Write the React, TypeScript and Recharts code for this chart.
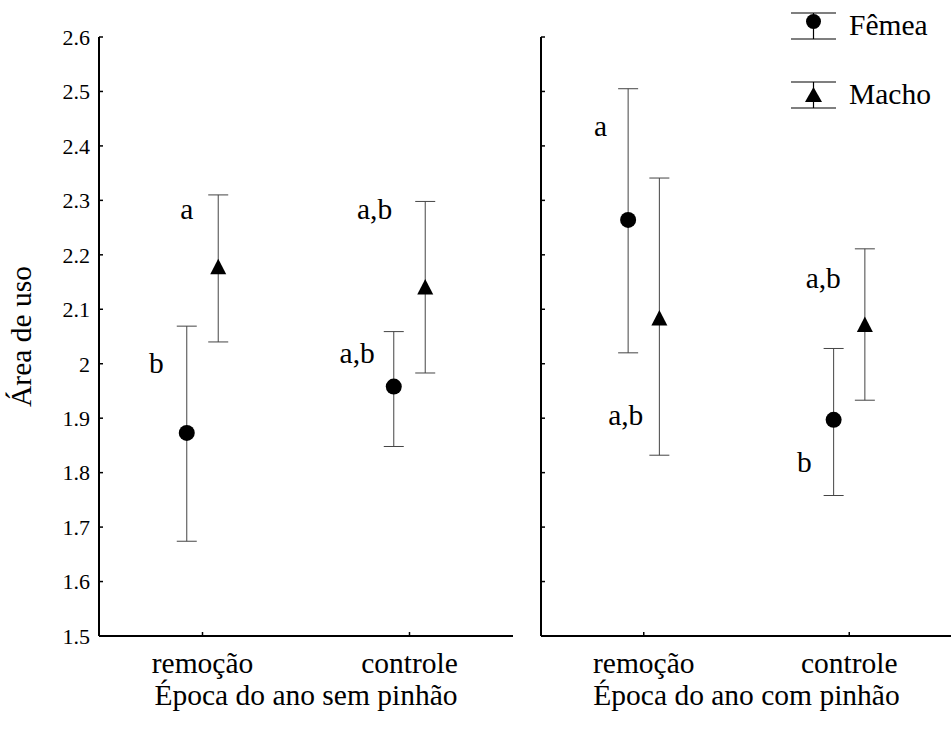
import React from 'react';
import { ScatterChart, Scatter, XAxis, YAxis, ErrorBar, Legend } from 'recharts';

// Época do ano: remoção / controle
const categories = ['remoção', 'controle'];
const yTicks = [1.5, 1.6, 1.7, 1.8, 1.9, 2.0, 2.1, 2.2, 2.3, 2.4, 2.5, 2.6];

// sem pinhão
const semFemeaMean = [1.873, 1.958];
const semFemeaUpper = [2.069, 2.059];
const semFemeaLower = [1.674, 1.848];
const semFemeaLetters = ['b', 'a,b'];
const semMachoMean = [2.178, 2.141];
const semMachoUpper = [2.31, 2.298];
const semMachoLower = [2.04, 1.983];
const semMachoLetters = ['a', 'a,b'];

// com pinhão
const comFemeaMean = [2.264, 1.897];
const comFemeaUpper = [2.505, 2.028];
const comFemeaLower = [2.02, 1.758];
const comFemeaLetters = ['a', 'b'];
const comMachoMean = [2.084, 2.072];
const comMachoUpper = [2.341, 2.211];
const comMachoLower = [1.832, 1.933];
const comMachoLetters = ['a,b', 'a,b'];

const FONT = '"Liberation Serif", "Times New Roman", serif';
const INK = '#000';
const BAR = '#444';
const SHIFT = 0.076; // horizontal offset of fêmea/macho around the category
const TXT = 29.5;

// letter placement, px from the marker: [right edge dx, baseline dy]
const semFemeaLetterPos = [[-23, -60], [-19, -24]];
const semMachoLetterPos = [[-25, -48], [-33, -68]];
const comFemeaLetterPos = [[-21, -84], [-22, 52]];
const comMachoLetterPos = [[-16, 107], [-24, -37]];

function rows(mean: number[], upper: number[], lower: number[], letters: string[], shift: number, pos: number[][]) {
  return mean.map((m, i) => ({
    x: i + shift,
    y: m,
    err: [m - lower[i], upper[i] - m],
    letter: letters[i],
    dx: pos[i][0],
    dy: pos[i][1],
  }));
}

function Letter({ cx, cy, payload }: any) {
  return (
    <text x={cx + payload.dx} y={cy + payload.dy} textAnchor="end" fontFamily={FONT} fontSize={TXT} fill={INK}>
      {payload.letter}
    </text>
  );
}

function Circle(props: any) {
  const { cx, cy } = props;
  return (
    <g>
      <circle cx={cx} cy={cy} r={8} fill={INK} />
      <Letter {...props} />
    </g>
  );
}

function Triangle(props: any) {
  const { cx, cy } = props;
  return (
    <g>
      <polygon points={`${cx},${cy - 8} ${cx - 8},${cy + 7.5} ${cx + 8},${cy + 7.5}`} fill={INK} />
      <Letter {...props} />
    </g>
  );
}

function LegendBox() {
  const item = (y: number, label: string, tri: boolean) => (
    <g key={label}>
      <line x1={0} x2={45} y1={y} y2={y} stroke={INK} strokeWidth={1.2} />
      <line x1={0} x2={45} y1={y + 26} y2={y + 26} stroke={INK} strokeWidth={1.2} />
      <line x1={22.5} x2={22.5} y1={y} y2={y + 26} stroke={INK} strokeWidth={1.2} />
      {tri ? (
        <polygon points={`22.5,${y + 5} 14,${y + 20} 31,${y + 20}`} fill={INK} />
      ) : (
        <circle cx={22.5} cy={y + 8.5} r={7.5} fill={INK} />
      )}
      <text x={58} y={y + 22} fontFamily={FONT} fontSize={TXT} fill={INK}>
        {label}
      </text>
    </g>
  );
  return (
    <svg width={170} height={120}>
      {item(13, 'Fêmea', false)}
      {item(82, 'Macho', true)}
    </svg>
  );
}

function Panel(props: {
  femea: any[];
  macho: any[];
  title: string;
  width: number;
  left: number;
  axisWidth: number;
  showLabels: boolean;
  legend?: boolean;
}) {
  const { femea, macho, title, width, left, axisWidth, showLabels, legend } = props;
  return (
    <div style={{ position: 'absolute', left, top: 0 }}>
      <ScatterChart width={width} height={736} margin={{ top: 37, right: 0, bottom: 64, left: 0 }}>
        <XAxis
          type="number"
          dataKey="x"
          domain={[-0.5, 1.5]}
          ticks={[0, 1]}
          tickFormatter={(v: number) => categories[Math.round(v)]}
          allowDataOverflow
          height={36}
          tickSize={-4}
          tickMargin={20}
          axisLine={{ stroke: INK, strokeWidth: 2 }}
          tickLine={{ stroke: INK, strokeWidth: 1.5 }}
          tick={{ fill: INK, fontFamily: FONT, fontSize: TXT }}
          label={{ value: title, position: 'insideBottom', offset: -33, fill: INK, fontFamily: FONT, fontSize: TXT }}
        />
        <YAxis
          type="number"
          dataKey="y"
          domain={[1.5, 2.6]}
          ticks={yTicks}
          allowDataOverflow
          width={axisWidth}
          tickSize={-4}
          tickMargin={13}
          tickFormatter={(v: number) => (showLabels ? String(Math.round(v * 10) / 10) : '')}
          axisLine={{ stroke: INK, strokeWidth: 2 }}
          tickLine={{ stroke: INK, strokeWidth: 1.5 }}
          tick={{ fill: INK, fontFamily: FONT, fontSize: 22 }}
          label={
            showLabels
              ? { value: 'Área de uso', angle: -90, position: 'insideLeft', offset: 21, fill: INK, fontFamily: FONT, fontSize: TXT, style: { textAnchor: 'middle' } }
              : undefined
          }
        />
        {legend && (
          <Legend
            layout="vertical"
            verticalAlign="middle"
            align="center"
            wrapperStyle={{ top: 0, left: 271, width: 170 }}
            content={() => <LegendBox />}
          />
        )}
        <Scatter name="Fêmea" data={femea} shape={Circle} isAnimationActive={false}>
          <ErrorBar dataKey="err" direction="y" width={10} stroke={BAR} strokeWidth={1} isAnimationActive={false} />
        </Scatter>
        <Scatter name="Macho" data={macho} shape={Triangle} isAnimationActive={false}>
          <ErrorBar dataKey="err" direction="y" width={10} stroke={BAR} strokeWidth={1} isAnimationActive={false} />
        </Scatter>
      </ScatterChart>
    </div>
  );
}

export default function App() {
  const semF = rows(semFemeaMean, semFemeaUpper, semFemeaLower, semFemeaLetters, -SHIFT, semFemeaLetterPos);
  const semM = rows(semMachoMean, semMachoUpper, semMachoLower, semMachoLetters, SHIFT, semMachoLetterPos);
  const comF = rows(comFemeaMean, comFemeaUpper, comFemeaLower, comFemeaLetters, -SHIFT, comFemeaLetterPos);
  const comM = rows(comMachoMean, comMachoUpper, comMachoLower, comMachoLetters, SHIFT, comMachoLetterPos);
  return (
    <div style={{ position: 'absolute', left: 0, top: 0, width: 951, height: 736, background: '#fff', overflow: 'hidden', fontFamily: FONT }}>
      <Panel femea={semF} macho={semM} title="Época do ano sem pinhão" width={513} left={0} axisWidth={99} showLabels />
      <Panel femea={comF} macho={comM} title="Época do ano com pinhão" width={432} left={520} axisWidth={21} showLabels={false} legend />
    </div>
  );
}
